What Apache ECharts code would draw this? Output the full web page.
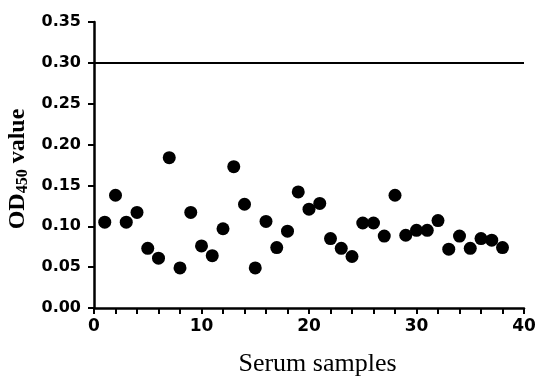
<!DOCTYPE html>
<html><head><meta charset="utf-8">
<script src="https://cdn.jsdelivr.net/npm/echarts@6/dist/echarts.min.js"></script>
<style>html,body{margin:0;padding:0;background:#fff}#c{width:550px;height:384px}</style>
</head><body><div id="c"></div>
<script>
const samples = [1,2,3,4,5,6,7,8,9,10,11,12,13,14,15,16,17,18,19,20,21,22,23,24,25,26,27,28,29,30,31,32,33,34,35,36,37,38];
const odValues = [0.105,0.138,0.105,0.117,0.073,0.061,0.184,0.049,0.117,0.076,0.064,0.097,0.173,0.127,0.049,0.106,0.074,0.094,0.142,0.121,0.128,0.085,0.073,0.063,0.104,0.104,0.088,0.138,0.089,0.095,0.095,0.107,0.072,0.088,0.073,0.085,0.083,0.074];
const cutoff = 0.305;
const xTitle = 'Serum samples';

const chart = echarts.init(document.getElementById('c'));
const axisLine = {lineStyle:{color:'#000',width:2.5}};
chart.setOption({
  animation:false,
  grid:{left:94,right:26,top:22,bottom:76,containLabel:false,outerBoundsMode:'none'},
  xAxis:{type:'value',min:0,max:40,interval:2,
    axisLine:axisLine,
    axisTick:{show:true,length:6,lineStyle:{color:'#000',width:2}},
    splitLine:{show:false},
    axisLabel:{color:'#000',fontFamily:'DejaVu Sans',fontWeight:'bold',fontSize:17,margin:10,
      formatter:v=> (v%10===0? String(v):'')},
    name:xTitle,nameLocation:'middle',nameGap:43,
    nameTextStyle:{color:'#000',fontFamily:'Liberation Serif',fontSize:26,padding:[0,0,0,17]}
  },
  yAxis:{type:'value',min:0,max:0.35,interval:0.05,
    axisLine:axisLine,
    axisTick:{show:true,length:6,lineStyle:{color:'#000',width:2}},
    splitLine:{show:false},
    axisLabel:{color:'#000',fontFamily:'DejaVu Sans',fontWeight:'bold',fontSize:16,margin:13,
      formatter:v=>v.toFixed(2)},
    name:'{m|OD}{s|450}{m| value}',nameLocation:'middle',nameGap:59,nameRotate:90,
    nameTextStyle:{padding:[0,8,0,0],rich:{
      m:{color:'#000',fontFamily:'Liberation Serif',fontWeight:'bold',fontSize:24},
      s:{color:'#000',fontFamily:'Liberation Serif',fontWeight:'bold',fontSize:16,padding:[10,0,0,0]}
    }}
  },
  series:[{type:'scatter',data:samples.map((s,i)=>[s,odValues[i]]),symbolSize:13,
    itemStyle:{color:'#000',opacity:1},
    markLine:{silent:true,symbol:'none',label:{show:false},
      lineStyle:{color:'#000',width:2,type:'solid'},
      data:[{yAxis:cutoff}]}
  }]
});
</script></body></html>
